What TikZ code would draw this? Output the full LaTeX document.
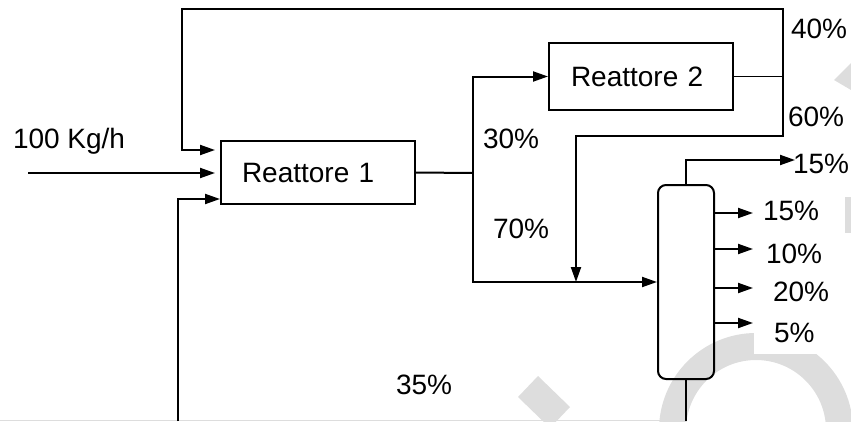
\documentclass[tikz,border=0pt]{standalone}
\usepackage{fontspec}
\setmainfont{Liberation Sans}
\usetikzlibrary{arrows.meta, positioning}
\definecolor{wmgray}{RGB}{221,221,221}

\begin{document}
\begin{tikzpicture}[x=1pt, y=-1pt, line width=2pt,
    font=\fontsize{28}{34}\selectfont,
    reactor/.style={draw, align=left, inner ysep=0pt},
    pct/.style={anchor=base west, inner sep=0pt},
    flow/.style={-{Triangle[length=15pt, width=10pt]}},
    splitline/.style={line width=1.4pt}]
\useasboundingbox (0,0) rectangle (851,421);

% watermark
\begin{scope}
    \clip (0,0) rectangle (851,421);
    \draw[wmgray, line width=27pt] (756,430) circle[radius=83.5];
    \fill[white] (754,318) rectangle (846,354);
    \fill[wmgray] (538,376) -- (570,407) -- (550,428) -- (518,397) -- cycle;
    \fill[wmgray] (834,80) -- (851,63) -- (851,90) -- cycle;
    \fill[wmgray] (845,197) rectangle (851,233);
    \draw[wmgray, line width=1.5pt] (0,420.5) -- (686,420.5);
\end{scope}

% units
\node[reactor, text width=152pt, inner xsep=21pt, minimum height=63pt] (r1) at (318,172.5) {Reattore 1};
\node[reactor, text width=140pt, inner xsep=22pt, minimum height=67pt] (r2) at (641,76.5) {Reattore 2};
\node[draw, rounded corners=8pt, minimum width=56pt, minimum height=194pt, inner sep=0pt] (col) at (686,282) {};

\coordinate (feed) at (28,173);
\coordinate (j1) at (473,173);
\coordinate (j2) at (783,76.5);
\coordinate (loopT) at (182,9);
\coordinate (loopB) at (178,421);
\coordinate (drop) at (576,136);
\coordinate (ctop) at (795,160);
\coordinate (cbot) at (686,421);

% feed and reactor 1
\node[pct] (feedlbl) at (12,148) {100 Kg/h};
\draw[flow, shorten >=5pt] (feed) -- (feed -| r1.west);
\draw (r1.east) -- (j1);
\draw[flow] (j1) |- (r2.west);
\draw[flow] (j1) |- (col.west);

% reactor 2 outlet, recycle 40% and 60% to column
\draw[splitline] (r2.east) -- (j2);
\draw[flow, shorten >=5pt] (j2) |- (loopT) |- ([yshift=-10pt]r1.north west);
\draw[flow] (j2) |- (drop) -- (drop |- col.west);

% column outlets
\draw[flow] (col.north) |- (ctop);
\foreach \yy/\val/\bx/\by [count=\i] in {213/15/762/220, 249/10/765/263, 288/20/772/301, 323/5/773/342} {
    \coordinate (o\i) at (753,\yy);
    \draw[flow] (col.east |- o\i) -- (o\i);
    \node[pct] (p\i) at (\bx,\by) {\val\%};
}
\draw (col.south) -- (cbot);
\draw[flow] (loopB) |- ([yshift=6pt]r1.south west);

% split labels
\node[pct] (l40) at (790,38) {40\%};
\node[pct] (l60) at (787,126) {60\%};
\node[pct] (l30) at (482,148) {30\%};
\node[pct] (l70) at (492,238) {70\%};
\node[pct] (l15) at (792,173) {15\%};
\node[pct] (l35) at (395,394) {35\%};
\end{tikzpicture}
\end{document}
